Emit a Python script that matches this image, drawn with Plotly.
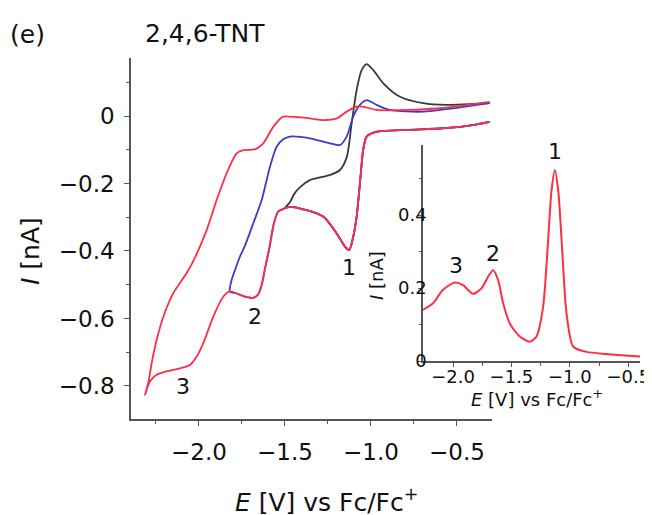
import plotly.graph_objects as go

# ---------------- data ----------------
# shared cathodic (forward) sweep, right -> left
E_cathodic = [-0.31, -0.45, -0.60, -0.79, -0.97, -1.025, -1.045, -1.064, -1.083, -1.103,
              -1.126, -1.151, -1.199, -1.277, -1.374, -1.471, -1.50, -1.539, -1.565, -1.59,
              -1.615, -1.635, -1.655, -1.68, -1.72, -1.78, -1.82, -1.858, -1.917, -1.975,
              -2.013, -2.052, -2.110, -2.188, -2.246, -2.285, -2.314]
I_cathodic = [-0.017, -0.030, -0.037, -0.041, -0.047, -0.061, -0.101, -0.200, -0.298, -0.358,
              -0.397, -0.387, -0.348, -0.298, -0.279, -0.269, -0.273, -0.283, -0.320, -0.390,
              -0.450, -0.500, -0.528, -0.538, -0.537, -0.526, -0.520, -0.535, -0.595, -0.674,
              -0.713, -0.738, -0.748, -0.757, -0.767, -0.787, -0.827]

# anodic (return) sweeps, left -> right
E_black_return = [-1.50, -1.47, -1.445, -1.41, -1.355, -1.24, -1.18, -1.14, -1.112, -1.083,
                  -1.054, -1.025, -0.986, -0.928, -0.831, -0.696, -0.56, -0.31]
I_black_return = [-0.273, -0.255, -0.230, -0.210, -0.190, -0.175, -0.160, -0.121, -0.022, 0.077,
                  0.136, 0.154, 0.136, 0.097, 0.057, 0.038, 0.033, 0.038]

E_blue_return = [-1.82, -1.81, -1.79, -1.762, -1.733, -1.684, -1.635, -1.587, -1.548, -1.51,
                 -1.471, -1.355, -1.238, -1.18, -1.141, -1.103, -1.064, -1.025, -0.967, -0.89,
                 -0.696, -0.31]
I_blue_return = [-0.520, -0.486, -0.456, -0.417, -0.385, -0.318, -0.249, -0.150, -0.091, -0.069,
                 -0.061, -0.066, -0.081, -0.086, -0.061, -0.002, 0.033, 0.047, 0.033, 0.018,
                 0.013, 0.038]

E_red_return = [-2.314, -2.295, -2.275, -2.246, -2.207, -2.149, -2.072, -2.033, -1.955, -1.897,
                -1.839, -1.781, -1.742, -1.674, -1.626, -1.568, -1.51, -1.471, -1.355, -1.277,
                -1.199, -1.141, -1.083, -1.045, -0.967, -0.792, -0.599, -0.31]
I_red_return = [-0.827, -0.792, -0.733, -0.664, -0.595, -0.525, -0.466, -0.430, -0.338, -0.249,
                -0.170, -0.111, -0.101, -0.099, -0.081, -0.032, -0.002, -0.002, -0.007, -0.012,
                -0.007, 0.013, 0.028, 0.028, 0.018, 0.018, 0.023, 0.042]

vertex_black = -1.50
vertex_blue = -1.82

# inset (differential pulse) curve
E_inset = [-2.257, -2.171, -2.086, -1.985, -1.914, -1.829, -1.757, -1.700, -1.657, -1.614,
           -1.571, -1.514, -1.429, -1.343, -1.286, -1.229, -1.186, -1.157, -1.129, -1.100,
           -1.071, -1.029, -0.971, -0.857, -0.686, -0.400]
I_inset = [0.140, 0.158, 0.195, 0.215, 0.208, 0.184, 0.199, 0.231, 0.249, 0.222,
           0.158, 0.103, 0.067, 0.053, 0.067, 0.149, 0.332, 0.468, 0.523, 0.468,
           0.332, 0.131, 0.039, 0.025, 0.019, 0.012]

main_labels = ["1", "2", "3"]
main_label_E = [-1.128, -1.674, -2.091]
main_label_I = [-0.450, -0.595, -0.802]
inset_labels = ["1", "2", "3"]
inset_label_E = [-1.129, -1.662, -1.971]
inset_label_I = [0.573, 0.295, 0.263]

# ---------------- build loops ----------------
def loop(vertex, E_ret, I_ret):
    E = [e for e in E_cathodic if e >= vertex - 1e-9]
    I = I_cathodic[:len(E)]
    return E + E_ret[1:], I + I_ret[1:]

Eb, Ib = loop(vertex_black, E_black_return, I_black_return)
Eu, Iu = loop(vertex_blue, E_blue_return, I_blue_return)
Er, Ir = loop(-10, E_red_return, I_red_return)

RED = "#ff2d45"
BLUE = "#3b3bd0"
BLACK = "#3a3a3a"
AX = "#555555"
TXT = "#111111"
FONT = "DejaVu Sans"

LW = 1.8
fig = go.Figure()
fig.add_trace(go.Scatter(x=Eb, y=Ib, mode="lines", line=dict(color=BLACK, width=LW, shape="spline", smoothing=0.7)))
fig.add_trace(go.Scatter(x=Eu, y=Iu, mode="lines", line=dict(color=BLUE, width=LW, shape="spline", smoothing=0.7)))
fig.add_trace(go.Scatter(x=Er, y=Ir, mode="lines", line=dict(color=RED, width=LW, shape="spline", smoothing=0.7)))
fig.add_trace(go.Scatter(x=E_inset, y=I_inset, mode="lines", xaxis="x2", yaxis="y2",
                         line=dict(color=RED, width=2, shape="spline", smoothing=0.7)))

# the page body has an 8 px margin: figure is 644x507 so it fills the 652x515 window
OFF = 8
W, H = 644, 507
L, T = 131 - OFF, 58 - OFF
R = W - (640 - OFF)
B = H - (419 - OFF)
pw, ph = W - L - R, H - T - B

def px(xs):
    return (xs - OFF - L) / pw

def py(ys):
    return (H - B - (ys - OFF)) / ph

axis_common = dict(showgrid=False, zeroline=False, showline=True, linecolor=AX, linewidth=1.6,
                   ticks="outside", tickcolor=AX, tickwidth=1.2)

fig.update_layout(
    width=W, height=H,
    margin=dict(l=L, r=R, t=T, b=B, autoexpand=False),
    paper_bgcolor="white", plot_bgcolor="rgba(0,0,0,0)",
    showlegend=False,
    font=dict(family=FONT, color=TXT),
    xaxis=dict(domain=[0, px(492)], range=[-2.395, -0.296], tickvals=[-2.0, -1.5, -1.0, -0.5],
               tickformat=".1f", ticklen=5, tickfont=dict(size=23), ticklabelstandoff=7,
               minor=dict(tickvals=[-2.25, -1.75, -1.25, -0.75], ticks="outside", ticklen=3, tickcolor=AX),
               anchor="y", **axis_common),
    yaxis=dict(domain=[0, 1], range=[-0.898, 0.172], tickvals=[-0.8, -0.6, -0.4, -0.2, 0],
               ticklen=5, tickfont=dict(size=23), ticklabelstandoff=5,
               minor=dict(tickvals=[-0.7, -0.5, -0.3, -0.1, 0.1], ticks="outside", ticklen=3, tickcolor=AX),
               anchor="x", **axis_common),
    xaxis2=dict(domain=[px(423), 1], range=[-2.257, -0.40], tickvals=[-2.0, -1.5, -1.0, -0.5],
                tickformat=".1f", ticklen=4, tickfont=dict(size=18), ticklabelstandoff=-5,
                minor=dict(tickvals=[-2.25, -1.75, -1.25, -0.75], ticks="outside", ticklen=3, tickcolor=AX),
                anchor="y2", **axis_common),
    yaxis2=dict(domain=[py(361), py(145)], range=[0, 0.592], tickvals=[0, 0.2, 0.4],
                ticklen=3, tickfont=dict(size=18), ticklabelstandoff=-12,
                minor=dict(tickvals=[0.1, 0.3, 0.5], ticks="outside", ticklen=2, tickcolor=AX),
                anchor="x2", **axis_common),
)

def note(text, x, y, size, xref="paper", yref="paper", angle=0):
    return dict(text=text, x=x, y=y, xref=xref, yref=yref, showarrow=False, textangle=angle,
                xanchor="center", yanchor="middle", font=dict(size=size))

ann = []
for t, x, y in zip(main_labels, main_label_E, main_label_I):
    ann.append(note(t, x, y, 22, "x", "y"))
for t, x, y in zip(inset_labels, inset_label_E, inset_label_I):
    ann.append(note(t, x, y, 22, "x2", "y2"))

ann += [
    note("(e)", px(27), py(35), 25),
    note("2,4,6-TNT", px(205), py(33), 25),
    note("<i>E</i> [V] vs Fc/Fc<sup>+</sup>", px(326), py(500), 25),
    note("<i>I</i> [nA]", px(30), py(251), 25, angle=-90),
    note("<i>E</i> [V] vs Fc/Fc<sup>+</sup>", px(537), py(398), 18),
    note("<i>I</i> [nA]", px(376), py(276), 18, angle=-90),
]
fig.update_layout(annotations=ann)

fig.write_html("out.html")
